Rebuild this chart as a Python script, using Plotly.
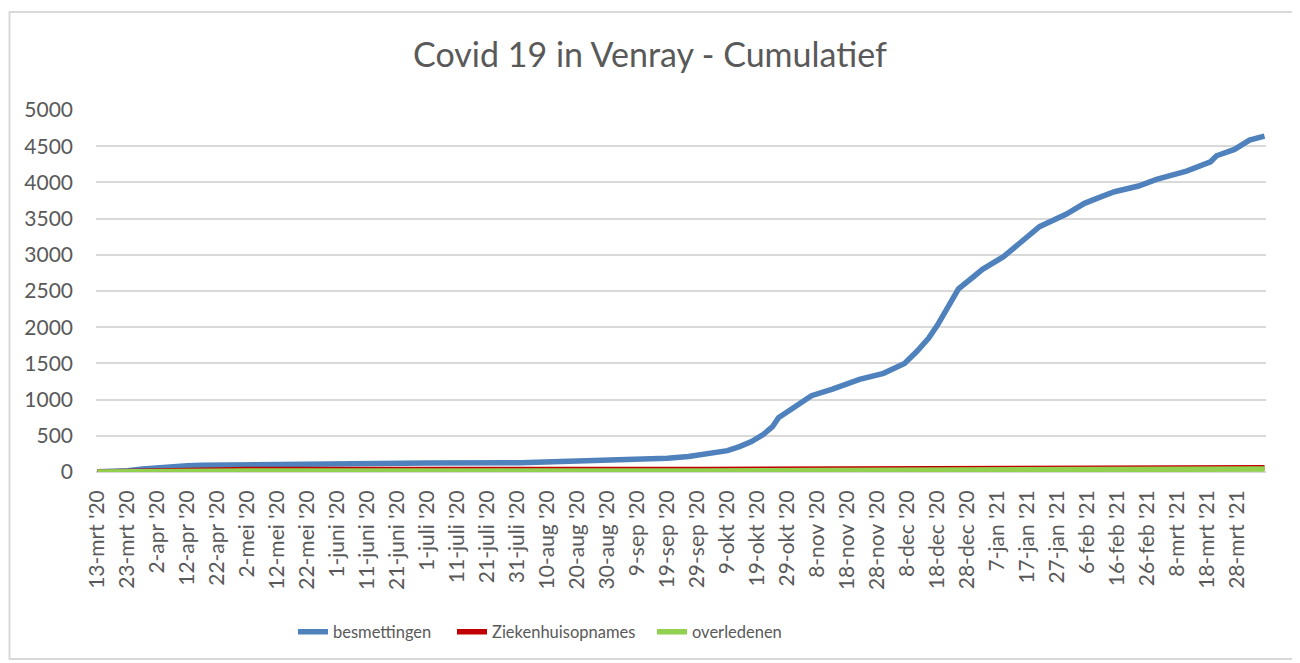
import plotly.graph_objects as go
import pandas as pd

title_text = "Covid 19 in Venray - Cumulatief"
series_names = ["besmettingen", "Ziekenhuisopnames", "overledenen"]
series_colors = ["#4F81BD", "#C00000", "#92D050"]

# besmettingen (cumulative infections), read at sample dates
bes_dates = ["2020-03-13", "2020-03-18", "2020-03-23", "2020-03-28", "2020-04-02", "2020-04-07",
             "2020-04-12", "2020-04-17", "2020-04-22", "2020-05-02", "2020-05-12", "2020-05-22",
             "2020-06-01", "2020-06-08", "2020-06-14", "2020-07-01", "2020-08-01", "2020-08-10",
             "2020-08-17", "2020-09-01", "2020-09-10", "2020-09-19", "2020-09-26", "2020-10-02",
             "2020-10-09", "2020-10-13", "2020-10-17", "2020-10-21", "2020-10-24", "2020-10-26",
             "2020-11-01", "2020-11-06", "2020-11-13", "2020-11-22", "2020-11-30", "2020-12-07",
             "2020-12-11", "2020-12-15", "2020-12-18", "2020-12-25", "2020-12-30", "2021-01-02",
             "2021-01-09", "2021-01-14", "2021-01-19", "2021-01-21", "2021-01-30", "2021-02-05",
             "2021-02-10", "2021-02-15", "2021-02-23", "2021-03-01", "2021-03-11", "2021-03-19",
             "2021-03-21", "2021-03-27", "2021-04-01", "2021-04-06"]
bes_values = [3, 8, 18, 40, 58, 72,
              85, 92, 95, 97, 98, 100,
              106, 110, 122, 124, 127, 135,
              145, 155, 166, 189, 215, 244,
              295, 350, 419, 520, 626, 750,
              925, 1054, 1146, 1280, 1363, 1500,
              1661, 1846, 2030, 2530, 2697, 2799,
              2974, 3140, 3319, 3388, 3563, 3711,
              3793, 3871, 3950, 4042, 4157, 4285,
              4368, 4456, 4585, 4640]

zkh_dates = ["2020-03-13", "2020-03-18", "2020-03-23", "2020-03-28", "2020-04-02", "2020-04-12",
             "2020-04-22", "2020-05-02", "2020-10-01", "2020-10-20", "2020-11-01", "2020-12-01",
             "2021-01-01", "2021-02-01", "2021-03-01", "2021-04-06"]
zkh_values = [1, 5, 12, 20, 26, 30, 32, 33, 34, 37, 42, 47, 52, 55, 58, 60]

ovl_dates = ["2020-03-13", "2020-03-28", "2020-04-12", "2020-04-22", "2020-05-02", "2020-10-01",
             "2020-11-01", "2020-12-01", "2021-01-01", "2021-02-01", "2021-03-01", "2021-04-06"]
ovl_values = [0, 3, 10, 13, 14, 15, 18, 25, 32, 37, 40, 42]

tick_labels = ["13-mrt '20", "23-mrt '20", "2-apr '20", "12-apr '20", "22-apr '20", "2-mei '20",
               "12-mei '20", "22-mei '20", "1-juni '20", "11-juni '20", "21-juni '20", "1-juli '20",
               "11-juli '20", "21-juli '20", "31-juli '20", "10-aug '20", "20-aug '20", "30-aug '20",
               "9-sep '20", "19-sep '20", "29-sep '20", "9-okt '20", "19-okt '20", "29-okt '20",
               "8-nov '20", "18-nov '20", "28-nov '20", "8-dec '20", "18-dec '20", "28-dec '20",
               "7-jan '21", "17-jan '21", "27-jan '21", "6-feb '21", "16-feb '21", "26-feb '21",
               "8-mrt '21", "18-mrt '21", "28-mrt '21"]
tick_dates = pd.date_range("2020-03-13", periods=len(tick_labels), freq="10D")

y_ticks = list(range(0, 5001, 500))

FONT = "Lato, 'Open Sans', sans-serif"
TXT = "#595959"
GRID = "#D9D9D9"

# page layout (page offset of 8px from body margin is compensated)
PL, PR, PT, PB = 96, 1266, 110, 472          # plot area in page pixels
OFF = 8
PW = PR - PL
PH = PB - PT

def px_x(p):
    return (p - PL) / PW

def px_y(p):
    return (PB - p) / PH

legend_names = ["legend", "legend2", "legend3"]
legend_page_x = [293, 452, 652]

fig = go.Figure()
for name, color, xs, ys, lg in zip(series_names, series_colors,
                                   [bes_dates, zkh_dates, ovl_dates],
                                   [bes_values, zkh_values, ovl_values], legend_names):
    fig.add_trace(go.Scatter(x=pd.to_datetime(xs), y=ys, mode="lines", name=name,
                             line=dict(color=color, width=5.5), legend=lg,
                             hoverinfo="x+y+name"))

legend_common = dict(orientation="h", xanchor="left", yanchor="middle",
                     y=px_y(632), font=dict(size=16.5, color=TXT, family=FONT),
                     bgcolor="rgba(0,0,0,0)")

fig.update_layout(
    width=1300, height=663,
    paper_bgcolor="white", plot_bgcolor="white",
    margin=dict(l=PL - OFF, r=1300 - (PR - OFF), t=PT - OFF, b=663 - (PB - OFF)),
    font=dict(family=FONT, color=TXT),
    title=dict(text=title_text, x=(650 - OFF) / 1300, xref="container",
               y=1 - (55 - OFF) / 663, yref="container",
               xanchor="center", yanchor="middle", font=dict(size=34, color=TXT, family=FONT)),
    showlegend=True,
    legend=dict(x=px_x(legend_page_x[0]), **legend_common),
    legend2=dict(x=px_x(legend_page_x[1]), **legend_common),
    legend3=dict(x=px_x(legend_page_x[2]), **legend_common),
    shapes=[dict(type="rect", xref="paper", yref="paper",
                 x0=px_x(OFF + 1.5), x1=px_x(1296),
                 y0=px_y(659), y1=px_y(12),
                 line=dict(color=GRID, width=2), fillcolor="rgba(0,0,0,0)", layer="below")],
)
fig.update_xaxes(type="date", range=["2020-03-12 12:00", "2021-04-06 12:00"],
                 tickvals=tick_dates, ticktext=tick_labels, tickangle=-90,
                 tickfont=dict(size=21, color=TXT, family=FONT), showgrid=False,
                 showline=False, zeroline=False, ticks="", ticklabelstandoff=13)
fig.update_yaxes(range=[0, 5000], tickvals=y_ticks, showgrid=True, gridcolor=GRID, gridwidth=1.5,
                 zeroline=True, zerolinecolor=GRID, zerolinewidth=1.5, showline=False,
                 tickfont=dict(size=21, color=TXT, family=FONT), ticks="", ticklabelstandoff=22)

fig.write_html("out.html")
